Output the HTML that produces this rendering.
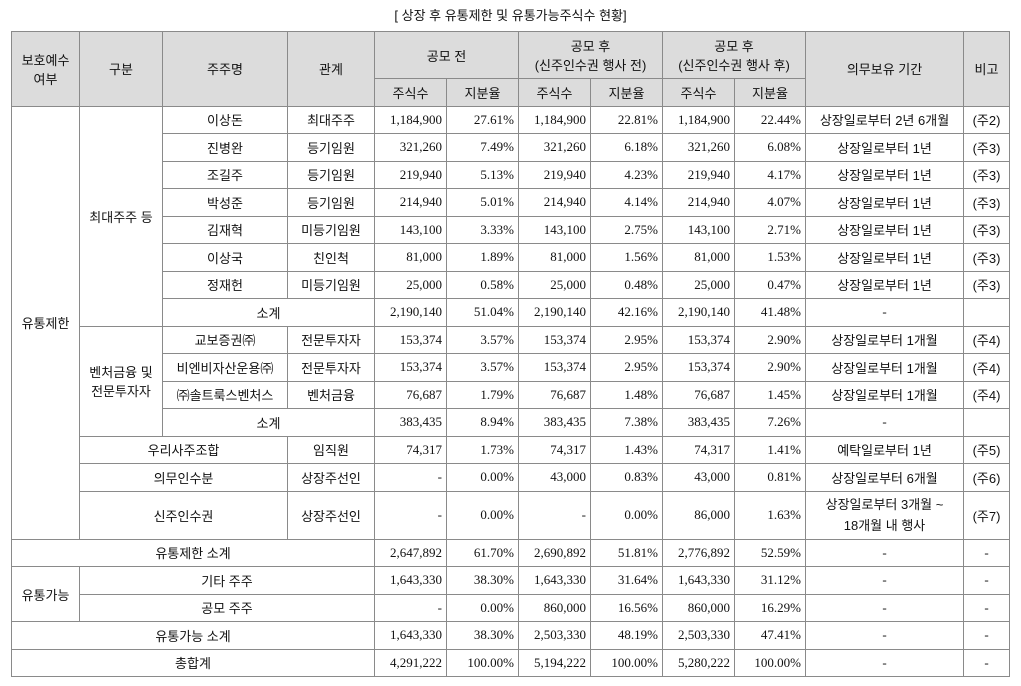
<!DOCTYPE html>
<html><head><meta charset="utf-8"><style>
body{margin:0;background:#fff;width:1021px;height:686px;overflow:hidden;font-family:"Liberation Serif","Noto Sans CJK KR",serif;font-size:13px;color:#111}
.title{position:absolute;left:0;width:1021px;top:5px;text-align:center;font-size:13px;font-family:"Liberation Sans","Noto Sans CJK KR",sans-serif}
table{position:absolute;left:11px;top:31px;border-collapse:collapse;table-layout:fixed;border:1.5px solid #000}
td,th{border:1px solid #8a8a8a;padding:0 4px;height:26.5px;white-space:nowrap;font-weight:normal}
th{background:#dcdcdc;text-align:center;font-family:"Liberation Sans","Noto Sans CJK KR",sans-serif}
td{text-align:center;font-family:"Liberation Serif","Noto Sans CJK KR",serif}
td.k{font-family:"Liberation Sans","Noto Sans CJK KR",sans-serif}
td.n{text-align:right}
</style></head><body>
<div class="title">[ 상장 후 유통제한 및 유통가능주식수 현황]</div>
<table>
<colgroup><col style="width:68px"><col style="width:83px"><col style="width:125px"><col style="width:87px"><col style="width:72px"><col style="width:72px"><col style="width:72px"><col style="width:72px"><col style="width:72px"><col style="width:71px"><col style="width:158px"><col style="width:46px"></colgroup>
<tr style="height:47px"><th rowspan="2">보호예수<br>여부</th><th rowspan="2">구분</th><th rowspan="2">주주명</th><th rowspan="2">관계</th><th colspan="2">공모 전</th><th colspan="2">공모 후<br>(신주인수권 행사 전)</th><th colspan="2">공모 후<br>(신주인수권 행사 후)</th><th rowspan="2">의무보유 기간</th><th rowspan="2">비고</th></tr>
<tr style="height:27px"><th>주식수</th><th>지분율</th><th>주식수</th><th>지분율</th><th>주식수</th><th>지분율</th></tr>
<tr><td class="k" rowspan="15">유통제한</td><td class="k" rowspan="8">최대주주 등</td><td class="k">이상돈</td><td class="k">최대주주</td><td class="n">1,184,900</td><td class="n">27.61%</td><td class="n">1,184,900</td><td class="n">22.81%</td><td class="n">1,184,900</td><td class="n">22.44%</td><td class="k">상장일로부터 2년 6개월</td><td class="k">(주2)</td></tr>
<tr><td class="k">진병완</td><td class="k">등기임원</td><td class="n">321,260</td><td class="n">7.49%</td><td class="n">321,260</td><td class="n">6.18%</td><td class="n">321,260</td><td class="n">6.08%</td><td class="k">상장일로부터 1년</td><td class="k">(주3)</td></tr>
<tr><td class="k">조길주</td><td class="k">등기임원</td><td class="n">219,940</td><td class="n">5.13%</td><td class="n">219,940</td><td class="n">4.23%</td><td class="n">219,940</td><td class="n">4.17%</td><td class="k">상장일로부터 1년</td><td class="k">(주3)</td></tr>
<tr><td class="k">박성준</td><td class="k">등기임원</td><td class="n">214,940</td><td class="n">5.01%</td><td class="n">214,940</td><td class="n">4.14%</td><td class="n">214,940</td><td class="n">4.07%</td><td class="k">상장일로부터 1년</td><td class="k">(주3)</td></tr>
<tr><td class="k">김재혁</td><td class="k">미등기임원</td><td class="n">143,100</td><td class="n">3.33%</td><td class="n">143,100</td><td class="n">2.75%</td><td class="n">143,100</td><td class="n">2.71%</td><td class="k">상장일로부터 1년</td><td class="k">(주3)</td></tr>
<tr><td class="k">이상국</td><td class="k">친인척</td><td class="n">81,000</td><td class="n">1.89%</td><td class="n">81,000</td><td class="n">1.56%</td><td class="n">81,000</td><td class="n">1.53%</td><td class="k">상장일로부터 1년</td><td class="k">(주3)</td></tr>
<tr><td class="k">정재헌</td><td class="k">미등기임원</td><td class="n">25,000</td><td class="n">0.58%</td><td class="n">25,000</td><td class="n">0.48%</td><td class="n">25,000</td><td class="n">0.47%</td><td class="k">상장일로부터 1년</td><td class="k">(주3)</td></tr>
<tr><td class="k" colspan="2">소계</td><td class="n">2,190,140</td><td class="n">51.04%</td><td class="n">2,190,140</td><td class="n">42.16%</td><td class="n">2,190,140</td><td class="n">41.48%</td><td>-</td><td></td></tr>
<tr><td class="k" rowspan="4">벤처금융 및<br>전문투자자</td><td class="k">교보증권㈜</td><td class="k">전문투자자</td><td class="n">153,374</td><td class="n">3.57%</td><td class="n">153,374</td><td class="n">2.95%</td><td class="n">153,374</td><td class="n">2.90%</td><td class="k">상장일로부터 1개월</td><td class="k">(주4)</td></tr>
<tr><td class="k">비엔비자산운용㈜</td><td class="k">전문투자자</td><td class="n">153,374</td><td class="n">3.57%</td><td class="n">153,374</td><td class="n">2.95%</td><td class="n">153,374</td><td class="n">2.90%</td><td class="k">상장일로부터 1개월</td><td class="k">(주4)</td></tr>
<tr><td class="k">㈜솔트룩스벤처스</td><td class="k">벤처금융</td><td class="n">76,687</td><td class="n">1.79%</td><td class="n">76,687</td><td class="n">1.48%</td><td class="n">76,687</td><td class="n">1.45%</td><td class="k">상장일로부터 1개월</td><td class="k">(주4)</td></tr>
<tr><td class="k" colspan="2">소계</td><td class="n">383,435</td><td class="n">8.94%</td><td class="n">383,435</td><td class="n">7.38%</td><td class="n">383,435</td><td class="n">7.26%</td><td>-</td><td></td></tr>
<tr><td class="k" colspan="2">우리사주조합</td><td class="k">임직원</td><td class="n">74,317</td><td class="n">1.73%</td><td class="n">74,317</td><td class="n">1.43%</td><td class="n">74,317</td><td class="n">1.41%</td><td class="k">예탁일로부터 1년</td><td class="k">(주5)</td></tr>
<tr><td class="k" colspan="2">의무인수분</td><td class="k">상장주선인</td><td class="n">-</td><td class="n">0.00%</td><td class="n">43,000</td><td class="n">0.83%</td><td class="n">43,000</td><td class="n">0.81%</td><td class="k">상장일로부터 6개월</td><td class="k">(주6)</td></tr>
<tr style="height:48px"><td class="k" colspan="2">신주인수권</td><td class="k">상장주선인</td><td class="n">-</td><td class="n">0.00%</td><td class="n">-</td><td class="n">0.00%</td><td class="n">86,000</td><td class="n">1.63%</td><td class="k" style="line-height:21px">상장일로부터 3개월 ~<br>18개월 내 행사</td><td class="k">(주7)</td></tr>
<tr><td class="k" colspan="4">유통제한 소계</td><td class="n">2,647,892</td><td class="n">61.70%</td><td class="n">2,690,892</td><td class="n">51.81%</td><td class="n">2,776,892</td><td class="n">52.59%</td><td>-</td><td>-</td></tr>
<tr><td class="k" rowspan="2">유통가능</td><td class="k" colspan="3">기타 주주</td><td class="n">1,643,330</td><td class="n">38.30%</td><td class="n">1,643,330</td><td class="n">31.64%</td><td class="n">1,643,330</td><td class="n">31.12%</td><td>-</td><td>-</td></tr>
<tr><td class="k" colspan="3">공모 주주</td><td class="n">-</td><td class="n">0.00%</td><td class="n">860,000</td><td class="n">16.56%</td><td class="n">860,000</td><td class="n">16.29%</td><td>-</td><td>-</td></tr>
<tr><td class="k" colspan="4">유통가능 소계</td><td class="n">1,643,330</td><td class="n">38.30%</td><td class="n">2,503,330</td><td class="n">48.19%</td><td class="n">2,503,330</td><td class="n">47.41%</td><td>-</td><td>-</td></tr>
<tr><td class="k" colspan="4">총합계</td><td class="n">4,291,222</td><td class="n">100.00%</td><td class="n">5,194,222</td><td class="n">100.00%</td><td class="n">5,280,222</td><td class="n">100.00%</td><td>-</td><td>-</td></tr>
</table>
</body></html>
